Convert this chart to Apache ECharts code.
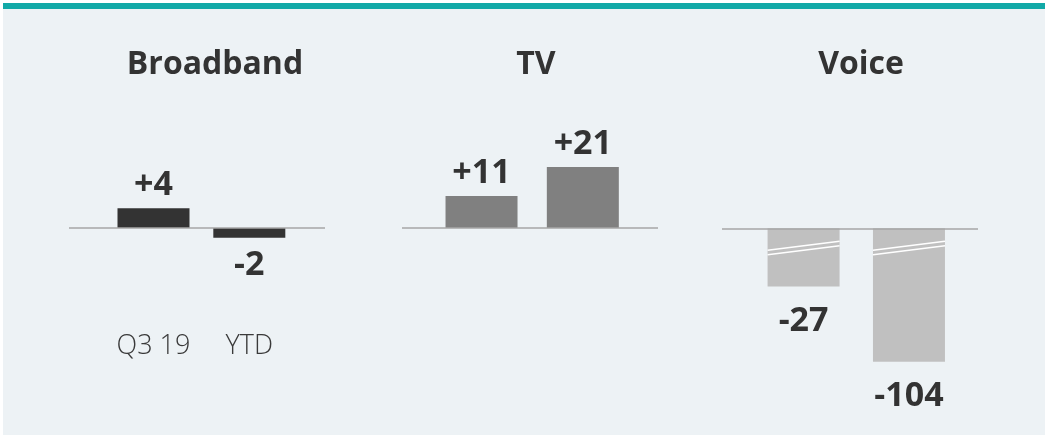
<!DOCTYPE html>
<html>
<head>
<meta charset="utf-8">
<script src="https://cdn.jsdelivr.net/npm/echarts@6/dist/echarts.min.js"></script>
<style>
  html, body { margin: 0; padding: 0; background: #ffffff; }
  #deco { position: absolute; left: 3px; top: 3px; width: 1042px; height: 426px;
          background: #edf2f5; border-top: 6px solid #12a9a7; }
  #chart { position: absolute; left: 0; top: 0; width: 1045px; height: 435px; }
</style>
</head>
<body>
<div id="deco"></div>
<div id="chart"></div>
<script>
// ---- data ----
const panels = ['Broadband', 'TV', 'Voice'];
const periods = ['Q3 19', 'YTD'];
const broadband = [4, -2];
const tv = [11, 21];
const voice = [-27, -104];

const chart = echarts.init(document.getElementById('chart'), null, { renderer: 'canvas' });

const FONT = '"Open Sans", "Noto Sans", sans-serif';
const BAR_W = 72;
const colors = ['#333333', '#808080', '#c0c0c0'];
const values = [broadband, tv, voice];

// layout per panel (pixels / axis extents)
const layout = [
  { left: 69, top: 100, height: 225, xMin: -0.882, xMax: 1.790, yMin: -19.7, yMax: 26, titleX: 210, labelDistTop: 6, labelDistBottom: 10 },
  { left: 402, top: 100, height: 320, xMin: -0.785, xMax: 1.742, yMin: -66, yMax: 44, titleX: 531, labelDistTop: 6, labelDistBottom: 10 },
  { left: 722, top: 100, height: 320, xMin: -0.774, xMax: 1.655, yMin: -163.6, yMax: 131.4, titleX: 856, labelDistTop: 6, labelDistBottom: 18 }
];

function toPairs(arr) { return arr.map((v, i) => [i, v]); }
function fmt(v) { return v > 0 ? '+' + v : String(v); }

const grids = [], xAxes = [], yAxes = [], series = [], titles = [];

layout.forEach((L, k) => {
  grids.push({ left: L.left, top: L.top, width: 256, height: L.height, containLabel: false });
  xAxes.push({
    type: 'value', gridIndex: k, min: L.xMin, max: L.xMax,
    splitLine: { show: false }, axisLine: { show: false }, axisTick: { show: false },
    axisLabel: {
      show: k === 0, margin: 8,
      fontFamily: FONT, fontSize: 27, fontWeight: 300, color: '#3a3a3a',
      showMinLabel: false, showMaxLabel: false,
      formatter: v => (Number.isInteger(v) && periods[v] !== undefined) ? periods[v] : ''
    }
  });
  const y = {
    type: 'value', gridIndex: k, min: L.yMin, max: L.yMax,
    splitLine: { show: false }, axisLine: { show: false }, axisTick: { show: false },
    axisLabel: { show: false }
  };
  if (k === 2) {
    y.breaks = [{ start: -17, end: -16, gap: 33.7 }];
    y.breakArea = { show: false };
  }
  yAxes.push(y);

  titles.push({
    text: panels[k], left: L.titleX, top: 44, textAlign: 'center',
    textStyle: { fontFamily: FONT, fontSize: 32, fontWeight: 'bold', color: '#333333' }
  });

  series.push({
    type: 'bar', name: panels[k], xAxisIndex: k, yAxisIndex: k,
    barWidth: BAR_W,
    data: toPairs(values[k]).map(p => ({
      value: p,
      label: {
        show: true,
        position: p[1] >= 0 ? 'top' : 'bottom',
        distance: p[1] >= 0 ? L.labelDistTop : L.labelDistBottom,
        formatter: () => fmt(p[1])
      }
    })),
    itemStyle: { color: colors[k] },
    label: { fontFamily: FONT, fontSize: 34, fontWeight: 'bold', color: '#333333' },
    markLine: {
      silent: true, symbol: 'none',
      label: { show: false },
      lineStyle: { color: '#a6a6a6', width: 1.5, type: 'solid' },
      data: [{ yAxis: 0 }]
    },
    z: 2
  });
});

// break marks on Voice bars
series.push({
  type: 'custom', xAxisIndex: 2, yAxisIndex: 2, z: 5, silent: true,
  data: toPairs(voice),
  renderItem: (params, api) => {
    const p = api.coord([api.value(0), 0]);
    const hw = BAR_W / 2;
    const mk = (d) => ({
      type: 'line',
      shape: { x1: p[0] - hw, y1: p[1] + 22 + d, x2: p[0] + hw, y2: p[1] + 13 + d },
      style: { stroke: '#ffffff', lineWidth: 1.6 }
    });
    return { type: 'group', children: [mk(0), mk(4.5)] };
  }
});

chart.setOption({
  animation: false,
  backgroundColor: 'transparent',
  title: titles,
  grid: grids,
  xAxis: xAxes,
  yAxis: yAxes,
  series: series
});
</script>
</body>
</html>
